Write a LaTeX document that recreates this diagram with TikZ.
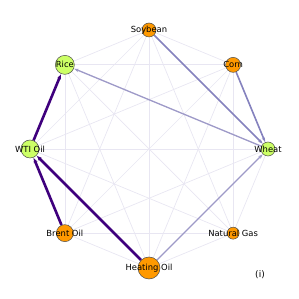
\documentclass[tikz,border=0pt]{standalone}
\usepackage{fontspec}
\setmainfont{DejaVu Sans}
\usetikzlibrary{arrows.meta, backgrounds, calc}
\definecolor{LimeNode}{HTML}{CCFF66}
\definecolor{OrangeNode}{HTML}{FF9900}
\definecolor{PairGray}{HTML}{E8E6F2}
\definecolor{PurpleDark}{HTML}{3F007D}
\definecolor{PurpleMid}{HTML}{8582BE}
\definecolor{PurpleLight}{HTML}{9E9AC8}
\tikzset{
    market/.style={circle, draw=black!70, line width=0.5pt, inner sep=0pt},
    grain/.style={market, fill=LimeNode},
    energy/.style={market, fill=OrangeNode},
    tag/.style={font=\fontsize{8.4}{9}\selectfont, inner sep=0pt},
    pair/.style={draw=PairGray, line width=0.7pt},
    strong/.style={-{Stealth[length=5pt,width=4pt]}, draw=PurpleDark, line width=2.6pt, shorten >=0.5pt},
    medium/.style={-{Stealth[length=4.5pt,width=3.5pt]}, draw=PurpleMid, line width=1.6pt, shorten >=0.5pt},
    weak/.style={-{Stealth[length=4.5pt,width=3.5pt]}, draw=PurpleLight, line width=1.3pt, shorten >=0.5pt}
}

\begin{document}
\begin{tikzpicture}[x=1pt, y=1pt]
    \useasboundingbox (0,0) rectangle (299,299);
    \coordinate (c) at (149,150);

    % markets on the ring
    \node[energy, minimum size=14pt] (soy) at ($(c)+(90:119)$) {};
    \node[energy, minimum size=15pt] (corn) at ($(c)+(45:119)$) {};
    \node[grain, minimum size=14pt] (wheat) at ($(c)+(0:119)$) {};
    \node[energy, minimum size=12pt] (gas) at ($(c)+(-45:119)$) {};
    \node[energy, minimum size=22pt] (heat) at ($(c)+(-90:119)$) {};
    \node[energy, minimum size=17pt] (brent) at ($(c)+(-135:119)$) {};
    \node[grain, minimum size=18pt] (wti) at ($(c)+(180:119)$) {};
    \node[grain, minimum size=19pt] (rice) at ($(c)+(135:119)$) {};

    \node[tag] (soytxt) at (soy) {Soybean};
    \node[tag] (corntxt) at (corn) {Corn};
    \node[tag] (wheattxt) at (wheat) {Wheat};
    \node[tag] (gastxt) at (gas) {Natural Gas};
    \node[tag] (heattxt) at (heat) {Heating Oil};
    \node[tag] (brenttxt) at (brent) {Brent Oil};
    \node[tag] (wtitxt) at (wti) {WTI Oil};
    \node[tag] (ricetxt) at (rice) {Rice};

    \node[tag, font=\fontsize{9}{10}\selectfont] (panel) at (260,24) {(i)};

    \begin{scope}[on background layer]
        \foreach \a/\b in {soy/corn, soy/wheat, soy/gas, soy/heat, soy/brent, soy/wti, soy/rice,
                           corn/wheat, corn/gas, corn/heat, corn/brent, corn/wti, corn/rice,
                           wheat/gas, wheat/heat, wheat/brent, wheat/wti, wheat/rice,
                           gas/heat, gas/brent, gas/wti, gas/rice,
                           heat/brent, heat/wti, heat/rice,
                           brent/wti, brent/rice, wti/rice}
            \draw[pair] (\a) -- (\b);
        \draw[weak] (heat) -- (wheat);
        \draw[weak] (wheat) -- (rice);
        \draw[medium] (soy) -- (wheat);
        \draw[medium] (corn) -- (wheat);
        \draw[strong] (brent) -- (wti);
        \draw[strong] (heat) -- (wti);
        \draw[strong] (wti) -- (rice);
    \end{scope}
\end{tikzpicture}
\end{document}
